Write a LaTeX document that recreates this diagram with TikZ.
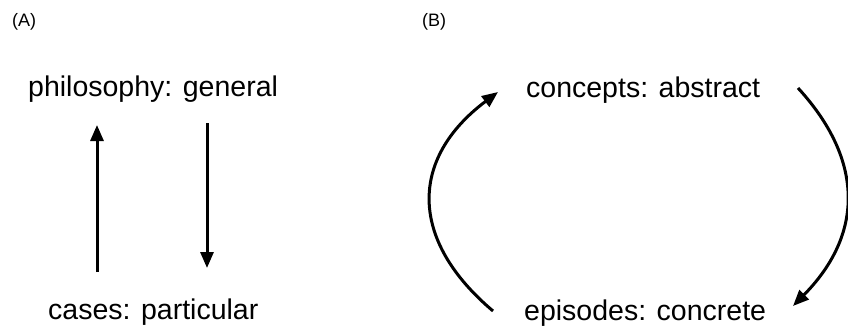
\documentclass[tikz,border=0pt]{standalone}
\usepackage{fontspec}
\setmainfont{Liberation Sans}
\usetikzlibrary{arrows.meta}
\tikzset{
  lbl/.style={inner sep=0pt, anchor=base west, font=\fontsize{28.5}{32}\selectfont},
  panel/.style={inner sep=0pt, anchor=base west, font=\fontsize{18}{21}\selectfont},
  arr/.style={line width=3pt, -{Triangle[length=16pt,width=13pt]}}
}
\begin{document}
\begin{tikzpicture}[x=1pt,y=-1pt]
\useasboundingbox (0,0) rectangle (848,329);
% panel labels
\node[panel] (pA) at (12,27) {(A)};
\node[panel] (pB) at (422,27) {(B)};
% panel A
\node[lbl] (phil) at (28,96) {philosophy: general};
\node[lbl] (cases) at (48,319) {cases: particular};
\coordinate (a1s) at (97,272);
\coordinate (a1e) at (97,125);
\coordinate (a2s) at (207,123);
\coordinate (a2e) at (207,268);
\draw[arr] (a1s) -- (a1e);
\draw[arr] (a2s) -- (a2e);
% panel B
\node[lbl] (conc) at (526,97) {concepts: abstract};
\node[lbl] (epi) at (524,320) {episodes: concrete};
\coordinate (l1) at (493,311);
\coordinate (l2) at (498,92);
\coordinate (r1) at (798,88);
\coordinate (r2) at (793,306);
\draw[arr] (l1) .. controls (409,240) and (409,159) .. (l2);
\draw[arr] (r1) .. controls (864,160) and (864,234) .. (r2);
\end{tikzpicture}
\end{document}
